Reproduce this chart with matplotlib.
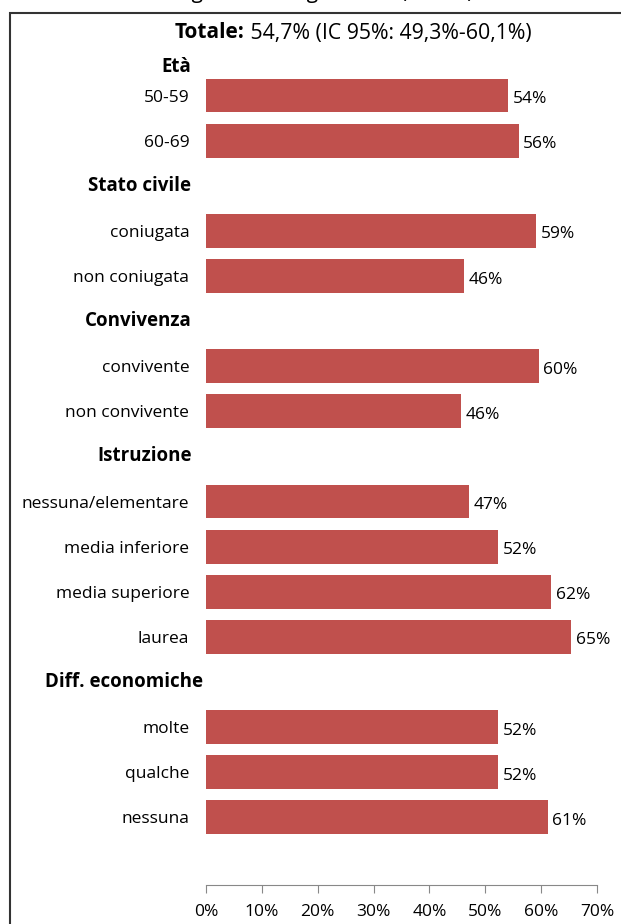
import matplotlib.pyplot as plt
from matplotlib.patches import Rectangle

plt.rcParams['font.family'] = ['Open Sans', 'DejaVu Sans']

# slot positions (top to bottom), blank slots hold the group headers
categories = ['50-59', '60-69', '', 'coniugata', 'non coniugata', '',
              'convivente', 'non convivente', '',
              'nessuna/elementare', 'media inferiore', 'media superiore', 'laurea', '',
              'molte', 'qualche', 'nessuna']
values = [54.1, 56.0, None, 59.1, 46.2, None,
          59.6, 45.6, None,
          47.1, 52.3, 61.8, 65.4, None,
          52.3, 52.3, 61.2]
headers = ['Età', 'Stato civile', 'Convivenza', 'Istruzione', 'Diff. economiche']
header_pos = [-0.64, 2, 5, 8, 13]
xticks = [0, 10, 20, 30, 40, 50, 60, 70]

bar_color = '#C0504D'

fig = plt.figure(figsize=(6.21, 9.24), dpi=100)
ax = fig.add_axes([206/621, 1-885/924, (597-206)/621, (885-73)/924])

ys = [i for i, v in enumerate(values) if v is not None]
vs = [v for v in values if v is not None]
ax.barh(ys, vs, height=0.75, color=bar_color)
for y, v in zip(ys, vs):
    ax.text(v + 0.8, y + 0.08, f'{v:.0f}%', va='center', ha='left', fontsize=12.5)

ax.set_yticks(range(len(categories)))
ax.set_yticklabels(categories, fontsize=12.5)
ax.tick_params(axis='y', length=0, pad=12)
for h, p in zip(headers, header_pos):
    ax.text(-2.6 if h != 'Diff. economiche' else -0.6, p, h, ha='right', va='center',
            fontsize=13.5, fontweight='bold')

ax.set_xlim(0, 70)
ax.set_ylim(17.5, -0.5)
ax.set_xticks(xticks)
ax.set_xticklabels([f'{t}%' for t in xticks], fontsize=12.5)
ax.tick_params(axis='x', length=6, color='#888888', pad=8)
for s in ['top', 'right', 'left']:
    ax.spines[s].set_visible(False)
ax.spines['bottom'].set_color('#888888')

# outer frame of the chart area
fig.patches.append(Rectangle((10/621, -0.1), 1.0, 1.1 - 13/924,
                             transform=fig.transFigure, fill=False,
                             edgecolor='#333333', linewidth=1.5))

t1 = fig.text(175/621, 1-33/924, 'Totale:', fontsize=15, fontweight='bold',
              ha='left', va='center')
ax.annotate(' 54,7% (IC 95%: 49,3%-60,1%)', xy=(1, 0.5), xycoords=t1,
            fontsize=15.3, ha='left', va='center')

# clipped subtitle at the very top
fig.text(320/621, 1 + 8/924, 'Regione Sardegna 2010 (n=336)', fontsize=15,
         ha='center', va='center')

fig.savefig('out.png', dpi=100)
